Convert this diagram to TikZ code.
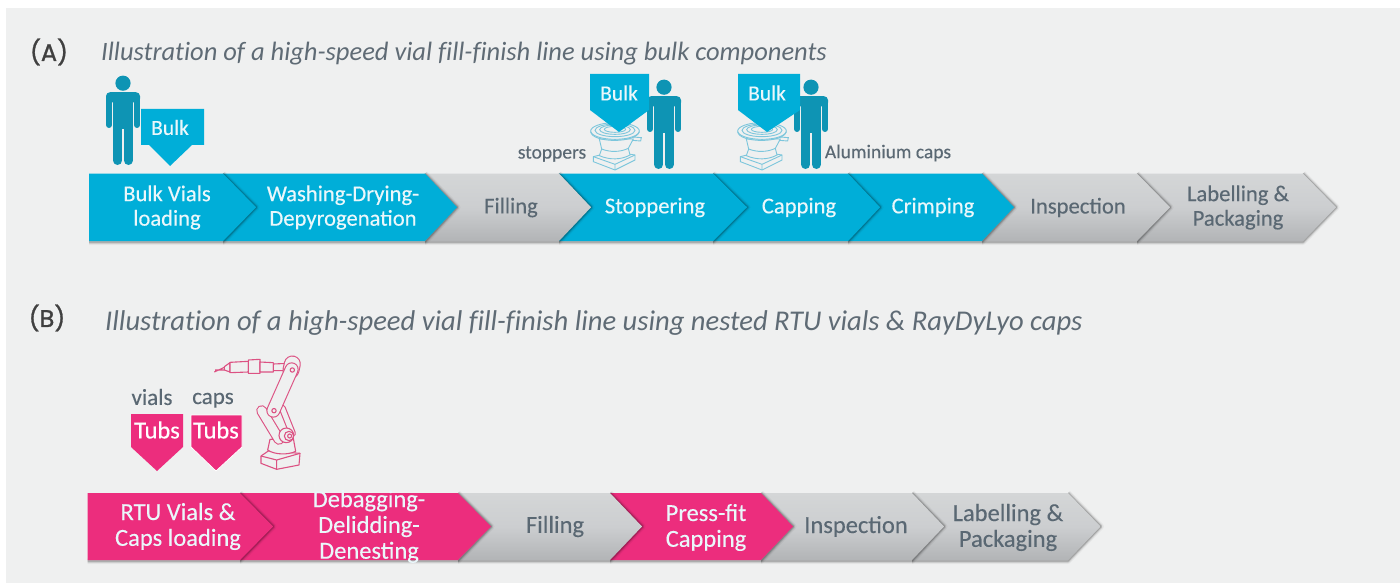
\documentclass[tikz,border=0pt]{standalone}
\usepackage{fontspec}
\setmainfont[FakeBold=0.25]{Carlito}
\newfontfamily\ttlfont[Ligatures=NoCommon]{Carlito}
\newfontfamily\labfont[FakeBold=1.2]{Poppins}
\definecolor{bgc}{HTML}{EFF0F0}
\definecolor{cya}{HTML}{00AED8}
\definecolor{pnk}{HTML}{EC2D7D}
\definecolor{graytop}{HTML}{D4D6D7}
\definecolor{graybot}{HTML}{B2B4B6}
\definecolor{graymid}{HTML}{CCCED0}
\definecolor{txt}{HTML}{5A6873}
\definecolor{ttl}{HTML}{5F6B75}
\definecolor{wht}{HTML}{EAF7FB}
\definecolor{teal1}{HTML}{0E94B4}
\definecolor{bowl}{HTML}{7CC6DC}
\definecolor{robo}{HTML}{DC5283}
\tikzset{
  lbl/.style={align=center,inner sep=0pt,font=\bfseries\fontsize{22.6}{24.5}\selectfont},
  lblb/.style={align=center,inner sep=0pt,font=\fontsize{24.5}{25.8}\selectfont},
  tag/.style={align=center,inner sep=0pt,text=wht,font=\fontsize{21.5}{24}\selectfont},
  wlab/.style={text=wht},
  glab/.style={text=txt},
  small/.style={inner sep=0pt,text=txt,font=\fontsize{19.5}{22}\selectfont},
  title/.style={inner sep=0pt,anchor=west,text=ttl,font=\ttlfont\itshape},
  pan/.style={inner sep=0pt,text=black!75,font=\labfont\fontsize{24}{28}\selectfont},
  robot/.style={draw=robo,line width=1.1pt,line join=round},
  bowlline/.style={draw=bowl,line width=.9pt},
  cyanfill/.style={fill=cya},
  pinkfill/.style={fill=pnk},
  grayfill/.style={top color=graytop,bottom color=graybot,middle color=graymid},
}
\tikzset{lbl/.append style={font=\fontsize{22.6}{24.5}\selectfont}}
% #1 x0, #2 body right, #3 tip, #4 top, #5 bottom, #6 style
\newcommand\chev[6]{%
  \pgfmathsetmacro\ymid{(#4+#5)/2}%
  \foreach \w/\o in {6/.04,4/.07,2.5/.1,1.2/.14}{
    \draw[black,opacity=\o,line width=\w pt,line join=round]
      (#1,#5+1) -- (#2,#5+1) -- (#3+.5,\ymid) -- (#2,#4);
  }
  \path[#6] (#1,#4) -- (#2,#4) -- (#3,\ymid) -- (#2,#5) -- (#1,#5) -- cycle;
}
% person: #1 centre x, #2 head top y
\newcommand\person[2]{%
  \begin{scope}[shift={(#1,#2)}]
    \fill[teal1] (0,7.7) circle (7.6);
    \fill[teal1,rounded corners=4] (-17,16.7) rectangle (17,27);
    \fill[teal1] (-10,20) rectangle (10,54);
    \draw[teal1,line width=6pt,line cap=round] (-14,22) -- (-14,49.5);
    \draw[teal1,line width=6pt,line cap=round] (14,22) -- (14,49.5);
    \draw[teal1,line width=9pt,line cap=round] (-5.4,50) -- (-5.4,85);
    \draw[teal1,line width=9pt,line cap=round] (5.4,50) -- (5.4,85);
  \end{scope}}
% vibrating bowl: #1,#2 = top left reference of the drawing
\newcommand\feeder[2]{%
  \begin{scope}[shift={(#1,#2)},scale=1/3]
    \path[bowlline,fill=bgc] (70,125) -- (130,110) -- (195,120) -- (195,135) -- (135,165) -- (70,140) -- cycle;
    \draw[bowlline] (70,125) -- (135,148) -- (195,120) (135,148) -- (135,165);
    \path[bowlline,fill=bgc] (88,72) -- (95,102) -- (88,122) .. controls (120,136) and (155,134) .. (180,120) -- (175,100) -- (190,72) -- cycle;
    \draw[bowlline] (95,102) .. controls (120,112) and (150,112) .. (175,100);
    \path[bowlline,fill=bgc] (135,48) ellipse (73 and 25);
    \draw[bowlline] (135,46) ellipse (60 and 19);
    \draw[bowlline] (135,44) ellipse (46 and 14);
    \draw[bowlline] (135,43) ellipse (32 and 9);
    \draw[bowlline] (62,50) .. controls (66,85) and (200,85) .. (208,50);
    \draw[bowlline] (190,66) -- (214,68) -- (212,78) -- (186,76);
  \end{scope}}
\begin{document}
\begin{tikzpicture}[x=1pt,y=-1pt]
\useasboundingbox (0,0) rectangle (1400,583);
\fill[bgc] (6,8) rectangle (1400,583);

% Titles
\node[pan] (pa) at (49,52) {(A)};
\node[pan] (pb) at (47,318) {(B)};
\node[title,font=\ttlfont\itshape\fontsize{26.5}{30}\selectfont] (ta) at (101,54) {Illustration of a high-speed vial fill-finish line using bulk components};
\node[title,font=\ttlfont\itshape\fontsize{28.6}{33}\selectfont] (tb) at (105,323) {Illustration of a high-speed vial fill-finish line using nested RTU vials \& RayDyLyo caps};

% Line A, chevrons from last to first
\chev{1137}{1303}{1336}{173.5}{241}{grayfill}
\chev{982}{1137}{1170}{173.5}{241}{grayfill}
\chev{848}{982}{1014}{173.5}{241}{cyanfill}
\chev{713}{848}{880}{173.5}{241}{cyanfill}
\chev{559}{713}{747}{173.5}{241}{cyanfill}
\chev{425}{559}{591}{173.5}{241}{grayfill}
\chev{223}{425}{457}{173.5}{241}{cyanfill}
\chev{89}{223}{256}{173.5}{241}{cyanfill}

\node[lbl,wlab] (a1) at (167,207.5) {Bulk Vials\\loading};
\node[lbl,wlab] (a2) at (343,207.5) {Washing-Drying-\\Depyrogenation};
\node[lbl,glab] (a3) at (511,207.5) {Filling};
\node[lbl,wlab] (a4) at (655,207.5) {Stoppering};
\node[lbl,wlab] (a5) at (799,207.5) {Capping};
\node[lbl,wlab] (a6) at (933,207.5) {Crimping};
\node[lbl,glab] (a7) at (1078,207.5) {Inspection};
\node[lbl,glab] (a8) at (1238,207.5) {Labelling \&\\Packaging};

% Line B
\chev{912}{1068}{1100.5}{493}{560}{grayfill}
\chev{761}{912}{944}{493}{560}{grayfill}
\chev{610}{761}{793}{493}{560}{pinkfill}
\chev{458}{610}{642}{493}{560}{grayfill}
\chev{240}{458}{491}{493}{560}{pinkfill}
\chev{87.5}{240}{273}{493}{560}{pinkfill}

\node[lblb,wlab] (b1) at (178,526.5) {RTU Vials \&\\Caps loading};
\node[lblb,wlab] (b2) at (369,526.5) {Debagging-\\Delidding-\\Denesting};
\node[lblb,glab] (b3) at (555,526.5) {Filling};
\node[lblb,wlab] (b4) at (706,527.5) {Press-fit\\Capping};
\node[lblb,glab] (b5) at (856,526.5) {Inspection};
\node[lblb,glab] (b6) at (1008,527.5) {Labelling \&\\Packaging};

% Operators and bulk tags
\person{123}{75.5}
\person{664}{79.5}
\person{811}{79.5}
\fill[cya] (141,109) -- (204,109) -- (204,145) -- (192,145) -- (170,166) -- (149,145) -- (141,145) -- cycle;
\node[tag] (t1) at (170,127.5) {Bulk};
\feeder{570}{115}
\fill[cya] (590,74) -- (649,74) -- (649,110) -- (619,132) -- (590,110) -- cycle;
\node[tag] (t2) at (619,93) {Bulk};
\feeder{717}{115}
\fill[cya] (738,74) -- (800,74) -- (800,110) -- (767,132) -- (738,110) -- cycle;
\node[tag] (t3) at (767,93) {Bulk};
\node[small] (st) at (552,154) {stoppers};
\node[small] (al) at (888,153) {Aluminium caps};

% Tubs
\node[lbl,glab,font=\fontsize{23}{24}\selectfont] (vi) at (152,397) {vials};
\node[lbl,glab,font=\fontsize{23}{24}\selectfont,anchor=base] (ca) at (213,404) {caps};
\fill[pnk] (131,414) -- (183,414) -- (183,447) -- (157,471) -- (131,447) -- cycle;
\path[fill=pnk,draw=white,line width=.8pt] (191,415) -- (242,415) -- (242,447) -- (216,471) -- (191,447) -- cycle;
\node[lbl,text=white,font=\fontsize{24.5}{26}\selectfont] (u1) at (157,430) {Tubs};
\node[lbl,text=white,font=\fontsize{24.5}{26}\selectfont] (u2) at (216,430) {Tubs};

% Robot arm
\begin{scope}[shift={(205,350)},scale=1/3]
  \path[robot,fill=bgc] (168,318) -- (190,303) -- (285,310) -- (282,345) -- (215,358) -- (168,340) -- cycle;
  \draw[robot] (168,318) -- (215,330) -- (285,310) (215,330) -- (215,358);
  \path[robot,fill=bgc] (195,268) -- (188,300) .. controls (210,315) and (250,315) .. (272,304) -- (265,265) -- cycle;
  \draw[robot,line width=11pt,line cap=round] (170,182) -- (222,268);
  \draw[bgc,line width=8.8pt,line cap=round] (170,182) -- (222,268);
  \draw[robot,line width=7pt,line cap=round] (232,175) -- (262,250);
  \draw[bgc,line width=4.8pt,line cap=round] (232,175) -- (262,250);
  \path[robot,fill=bgc] (244,256) circle (22);
  \path[robot,fill=bgc] (252,258) circle (14);
  \draw[robot] (254,258) circle (6);
  \path[robot,fill=bgc] (58,50) -- (75,38) -- (75,66) -- (58,60) -- cycle;
  \draw[robot] (28,66) -- (58,52) (30,60) -- (58,60);
  \path[robot,fill=bgc] (75,37) -- (130,34) -- (130,66) -- (75,68) -- cycle;
  \path[robot,fill=bgc] (130,30) -- (165,28) -- (165,70) -- (130,70) -- cycle;
  \path[robot,fill=bgc] (165,36) -- (205,38) -- (205,66) -- (165,66) -- cycle;
  \path[robot,fill=bgc] (205,42) -- (250,40) -- (250,62) -- (205,62) -- cycle;
  \draw[robot,line width=17pt,line cap=round] (262,42) -- (258,60);
  \draw[bgc,line width=14.8pt,line cap=round] (262,42) -- (258,60);
  \draw[robot,line width=14pt,line cap=round] (260,58) -- (205,182);
  \draw[bgc,line width=11.8pt,line cap=round] (260,58) -- (205,182);
  \draw[robot] (262,60) circle (6.5);
  \draw[robot] (207,182) circle (6.5);
\end{scope}
\end{tikzpicture}
\end{document}
